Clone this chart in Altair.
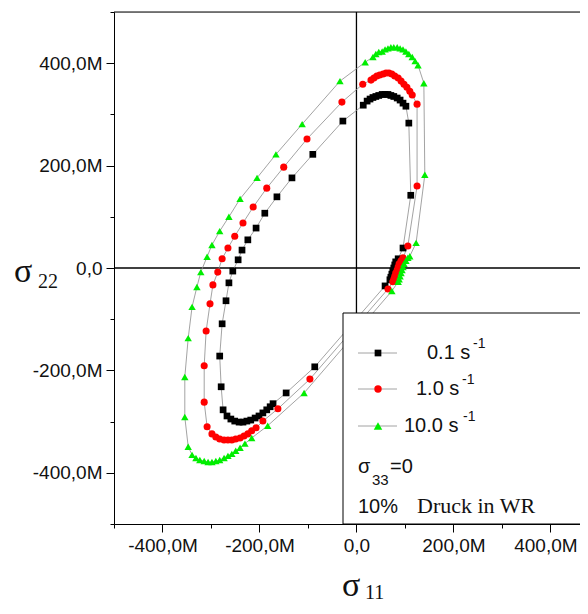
import altair as alt
import pandas as pd

# ---- data (stress values in units of M) ----
series_names = ["0.1", "1.0", "10.0"]

black_x = [69, 71, 73, 75, 77, 79, 81, 86, 96, 112, 108, 102,
           96, 90, 84, 77, 71, 65, 59, 53, 46, 40, 34, 28, 22,
           14, -28, -90, -133, -164, -189, -207, -224, -236, -244, -255, -263, -269, -277, -282, -279, -275,
           -267, -259, -251, -242, -234, -226, -218, -209, -201, -193, -185, -178, -172,
           -145, -86, 59]
black_y = [-23, -18, -12, -6, 0, 6, 12, 18, 39, 142, 283, 316,
           322, 328, 332, 335, 337, 339, 339, 339, 337, 335, 333, 330, 326,
           318, 287, 222, 176, 139, 107, 78, 55, 35, 16, -6, -29, -64, -109, -172, -232, -277,
           -289, -295, -299, -301, -301, -299, -297, -293, -289, -283, -277, -271, -265,
           -244, -193, -35]

red_x = [75, 77, 79, 81, 84, 86, 88, 92, 96, 106, 125, 125,
         115, 110, 104, 98, 92, 86, 79, 73, 67, 61, 55, 48, 42, 36, 30,
         13, -30, -102, -150, -185, -213, -234, -251, -265, -277, -286, -296, -302, -310, -314, -314, -308,
         -298, -290, -282, -273, -265, -257, -249, -240, -232, -224, -216, -207,
         -193, -162, -96, 65]
red_y = [-27, -22, -16, -10, -4, 2, 8, 14, 20, 43, 160, 320,
         338, 345, 353, 359, 365, 371, 375, 379, 381, 381, 379, 377, 375, 371, 367,
         359, 324, 252, 197, 156, 119, 88, 62, 39, 18, -8, -33, -70, -123, -191, -262, -310,
         -324, -330, -334, -336, -336, -336, -334, -332, -328, -324, -318, -312,
         -299, -275, -217, -41]

green_x = [86, 88, 90, 92, 94, 96, 98, 102, 106, 110, 123, 141, 139,
           127, 121, 115, 108, 102, 96, 90, 84, 77, 71, 65, 59, 53, 46, 40, 34,
           18, -34, -112, -166, -205, -240, -263, -282, -298, -308, -321, -329, -339, -347, -354, -354, -347,
           -339, -331, -323, -314, -306, -298, -290, -282, -273, -265, -257, -249, -240, -230,
           -216, -183, -108, 73]
green_y = [-27, -22, -16, -10, -4, 2, 8, 14, 20, 23, 49, 182, 361,
           396, 404, 412, 418, 423, 427, 429, 431, 431, 431, 429, 427, 423, 422, 418, 412,
           402, 365, 281, 222, 176, 135, 100, 72, 45, 22, -8, -37, -76, -137, -213, -291, -349,
           -365, -371, -375, -377, -379, -379, -377, -375, -371, -367, -363, -357, -351, -343,
           -332, -308, -244, -45]

tick_values_x = [-500, -400, -300, -200, -100, 0, 100, 200, 300, 400]
tick_values_y = [-500, -400, -300, -200, -100, 0, 100, 200, 300, 400, 500]

legend_labels = ["0.1 s", "1.0 s", "10.0 s"]
legend_sup = "-1"
note_sigma = "σ"
note_sub = "33"
note_eq = "=0"
note_pct = "10%"
note_druck = "Druck in WR"
title_sigma = "σ"
x_sub = "11"
y_sub = "22"

# ---- build table ----
rows = []
for name, xs, ys in [("0.1", black_x, black_y), ("1.0", red_x, red_y), ("10.0", green_x, green_y)]:
    for i, (a, b) in enumerate(zip(xs, ys)):
        rows.append({"s": name, "x": a, "y": b, "i": i})
    rows.append({"s": name, "x": xs[0], "y": ys[0], "i": len(xs)})  # close loop
df = pd.DataFrame(rows)
pts = df[df["i"] < df.groupby("s")["i"].transform("max")]

W, H = 466, 512
label_expr = ("datum.value == 0 ? '0,0' : (datum.value % 200 != 0 ? '' : "
              "(datum.value < 0 ? '-' : '') + abs(datum.value) + ',0M')")
tick_size = {"condition": {"test": "datum.value % 200 != 0", "value": 4}, "value": 8}
x_label_offset = {"condition": {"test": "datum.value == 400", "value": -5}, "value": 0}

xscale = alt.Scale(domain=[-500, 461], nice=False, zero=False)
yscale = alt.Scale(domain=[-500, 500], nice=False, zero=False)
xaxis = alt.Axis(values=tick_values_x, labelExpr=label_expr, tickSize=tick_size, title=None,
                 grid=False, labelFont="Liberation Sans", labelFontSize=19, labelColor="#111",
                 domainColor="black", tickColor="black", labelPadding=4, labelFlush=False,
                 labelOffset=x_label_offset)
yaxis = alt.Axis(values=tick_values_y, labelExpr=label_expr, tickSize=tick_size, title=None,
                 grid=False, labelFont="Liberation Sans", labelFontSize=19, labelColor="#111",
                 domainColor="black", tickColor="black", labelPadding=4, labelFlush=False)

base = alt.Chart(df)

lines = base.mark_line(color="#8c8c8c", strokeWidth=0.8).encode(
    x=alt.X("x:Q", scale=xscale, axis=xaxis),
    y=alt.Y("y:Q", scale=yscale, axis=yaxis),
    detail="s:N",
    order=alt.Order("i:Q"),
)

points = alt.Chart(pts).mark_point(filled=True, opacity=1).encode(
    x=alt.X("x:Q", scale=xscale),
    y=alt.Y("y:Q", scale=yscale),
    color=alt.Color("s:N", scale=alt.Scale(domain=series_names, range=["#000000", "#ff0000", "#00ee00"]), legend=None),
    shape=alt.Shape("s:N", scale=alt.Scale(domain=series_names, range=["square", "circle", "triangle-up"]), legend=None),
    size=alt.Size("s:N", scale=alt.Scale(domain=series_names, range=[45, 55, 72]), legend=None),
)

zero = pd.DataFrame({"v": [0]})
vrule = alt.Chart(zero).mark_rule(color="black", strokeWidth=1.3).encode(x=alt.X("v:Q", scale=xscale))
hrule = alt.Chart(zero).mark_rule(color="black", strokeWidth=1.3).encode(y=alt.Y("v:Q", scale=yscale))
topline = alt.Chart(zero).mark_rule(color="black", strokeWidth=1).encode(
    x=alt.value(0), x2=alt.value(W), y=alt.value(0))

one = pd.DataFrame({"t": [""]})
box = alt.Chart(one).mark_rect(fill="white", stroke="black", strokeWidth=1).encode(
    x=alt.value(229), x2=alt.value(W + 30), y=alt.value(301), y2=alt.value(H))

legend_layers = []
row_y = [341, 377, 414]
text_x = [313, 302, 290]
sup_x = [359, 348, 349]
shapes = ["square", "circle", "triangle-up"]
cols = ["#000000", "#ff0000", "#00ee00"]
sizes = [45, 55, 72]
for k in range(3):
    legend_layers.append(alt.Chart(one).mark_rule(color="#8c8c8c", strokeWidth=0.8).encode(
        x=alt.value(244), x2=alt.value(283), y=alt.value(row_y[k])))
    legend_layers.append(alt.Chart(one).mark_point(filled=True, opacity=1, shape=shapes[k],
                                                   color=cols[k], size=sizes[k]).encode(
        x=alt.value(264), y=alt.value(row_y[k])))
    legend_layers.append(alt.Chart(pd.DataFrame({"t": [legend_labels[k]]})).mark_text(
        align="left", baseline="alphabetic", font="Liberation Sans", fontSize=20, color="#111").encode(
        x=alt.value(text_x[k]), y=alt.value(row_y[k] + 6), text="t:N"))
    legend_layers.append(alt.Chart(pd.DataFrame({"t": [legend_sup]})).mark_text(
        align="left", baseline="alphabetic", font="Liberation Sans", fontSize=14, color="#111").encode(
        x=alt.value(sup_x[k]), y=alt.value(row_y[k] - 5), text="t:N"))


def txt(s, x, y, size, font="Liberation Sans"):
    return alt.Chart(pd.DataFrame({"t": [s]})).mark_text(
        align="left", baseline="alphabetic", font=font, fontSize=size, color="#111").encode(
        x=alt.value(x), y=alt.value(y), text="t:N")


notes = [
    txt(note_sigma, 244, 461, 20),
    txt(note_sub, 258, 473, 15),
    txt(note_eq, 276, 461, 20),
    txt(note_pct, 244, 501, 20),
    txt(note_druck, 303, 501, 22, "Liberation Serif"),
    txt(title_sigma, -100, 270, 34, "Liberation Serif"),
    txt(y_sub, -76, 276, 20, "Liberation Serif"),
    txt(title_sigma, 228, 584, 34, "Liberation Serif"),
    txt(x_sub, 251, 587, 20, "Liberation Serif"),
]

chart = alt.layer(
    vrule, hrule, topline, lines, points, box, *legend_layers, *notes
).properties(
    width=W, height=H,
    autosize=alt.AutoSizeParams(type="none"),
    padding={"left": 106, "top": 4, "right": 0, "bottom": 82},
).configure_view(stroke=None).configure(background="white")

chart.save("out.html", embed_options={"renderer": "svg", "actions": False})
